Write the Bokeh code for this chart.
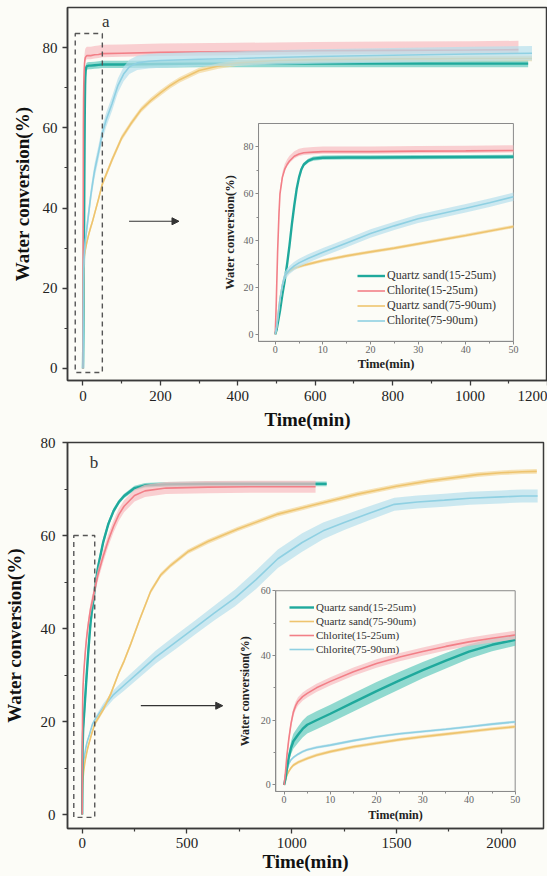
import math
from bokeh.plotting import figure
from bokeh.models import Range1d, LinearAxis, FixedTicker, Legend, LegendItem, Arrow, NormalHead, Label
from bokeh.layouts import column
from bokeh.embed import file_html
from bokeh.resources import INLINE

# ------------------------------------------------------------------ data
# panel a
a_qs15_t = [0, 0.3, 1, 1.5, 2, 2.5, 3, 3.5, 4, 4.5, 5, 5.5, 6, 7, 8, 10, 15, 20, 30, 40, 50,
            100, 200, 300, 400, 500, 600, 700, 800, 900, 1000, 1100, 1150]
a_qs15_v = [0, 2, 10, 17, 23, 30, 38, 47, 55, 62, 67, 70.5, 72.5, 74.2, 75, 75.4, 75.5, 75.5, 75.6, 75.7, 75.8,
            75.8, 75.9, 76, 76, 76, 76, 76, 76, 76, 76, 76, 76]
a_qs15_err = (0.9, 0.9)

a_chl15_t = [0, 0.2, 0.5, 0.8, 1, 1.5, 2, 2.5, 3, 4, 5, 6, 8, 10, 20, 30, 40, 50,
             100, 200, 400, 600, 800, 1000, 1125]
a_chl15_v = [0, 12, 35, 52, 60, 67, 70.5, 72.5, 74, 76, 77, 77.5, 77.8, 78, 78, 78.2, 78.3, 78.5,
             78.6, 78.8, 79, 79.2, 79.3, 79.4, 79.5]
a_chl15_err = (0.9, 2.2)

a_qs75_t = [0, 0.3, 0.7, 1, 1.5, 2, 3, 4, 6, 8, 10, 15, 20, 25, 30, 40, 50,
            60, 75, 100, 125, 150, 175, 200, 225, 250, 300, 350, 400, 500, 600, 700, 800, 900, 1000, 1100, 1160]
a_qs75_v = [0, 3, 10, 15, 21, 25, 27, 28.3, 29.5, 30.5, 31.5, 33.5, 35.2, 36.8, 38.6, 42.2, 46,
            48.4, 52, 57.5, 61.2, 64.5, 66.8, 68.7, 70.5, 72, 74.3, 75.4, 76.2, 76.8, 77, 77.1, 77.2, 77.2, 77.3, 77.3, 77.3]
a_qs75_err = (0.7, 0.7)

a_chl75_t = [0, 0.3, 0.7, 1, 1.5, 2, 3, 4, 5, 7, 10, 15, 20, 25, 30, 35, 40, 45, 50,
             60, 75, 90, 105, 120, 140, 170, 200, 300, 400, 600, 800, 1000, 1160]
a_chl75_v = [0, 3, 10, 15, 21, 25, 27.5, 29.2, 30.5, 32.5, 35, 39, 43, 46.3, 49.3, 51.6, 53.8, 56.2, 58.7,
             62, 66, 70.5, 73.4, 75.2, 76.2, 76.6, 76.8, 77.1, 77.3, 77.8, 78.1, 78.4, 78.6]
a_chl75_err = (1.8, 1.8)

# panel b
b_qs15_t = [0, 0.3, 0.6, 1, 1.5, 2, 3, 4, 5, 7, 10, 15, 20, 25, 30, 35, 40, 45, 50,
            60, 75, 100, 125, 150, 175, 200, 250, 300, 400, 600, 800, 1000, 1167]
b_qs15_v = [0, 2, 5, 8.5, 11.5, 13.5, 15.5, 17.3, 18.6, 20, 22, 25.5, 29, 32.3, 35.5, 38.4, 41.2, 43.3, 44.8,
            48.5, 53, 58.5, 62.5, 65.3, 67.2, 68.5, 70.2, 70.8, 71, 71.1, 71.1, 71.1, 71.1]
b_qs15_err = [0, 0.5, 1, 1.5, 2, 2.3, 2.5, 2.6, 2.7, 2.8, 2.8, 2.8, 2.8, 2.7, 2.5, 2.4, 2.2, 2, 1.8,
              1.5, 1.2, 0.9, 0.7, 0.6, 0.5, 0.5, 0.5, 0.5, 0.5, 0.5, 0.5, 0.5, 0.5]

b_chl15_t = [0, 0.3, 0.6, 1, 1.5, 2, 2.5, 3, 4, 5, 7, 10, 15, 20, 25, 30, 35, 40, 45, 50,
             60, 75, 100, 125, 150, 175, 200, 250, 300, 400, 600, 800, 1000, 1114]
b_chl15_v = [0, 4, 9, 14, 19, 22.5, 24.5, 25.8, 27.3, 28.3, 30, 32, 35, 37.5, 39.5, 41.2, 42.8, 44.2, 45.3, 46.3,
             48.5, 51.5, 55.5, 59, 62, 64.5, 66.3, 68.6, 69.6, 70.2, 70.4, 70.5, 70.5, 70.5]
b_chl15_err = 1.3

b_qs75_t = [0, 0.3, 0.6, 1, 1.5, 2, 3, 4, 5, 7, 10, 15, 20, 25, 30, 35, 40, 45, 50,
            60, 100, 137, 175, 200, 232, 275, 327, 375, 423, 504, 600, 743, 934, 1100, 1315,
            1500, 1649, 1887, 2000, 2100, 2170]
b_qs75_v = [0, 1.5, 3, 4.2, 5.3, 6.1, 7, 7.6, 8.2, 9.2, 10.3, 11.8, 12.9, 14, 14.9, 15.7, 16.5, 17.3, 18,
            19.5, 22.5, 26, 30.5, 33, 36.7, 42, 48, 51.5, 53.6, 56.5, 58.7, 61.4, 64.6, 66.5, 68.9,
            70.6, 71.7, 73.1, 73.5, 73.7, 73.8]
b_qs75_err = 0.5

b_chl75_t = [0, 0.3, 0.6, 1, 1.5, 2, 3, 4, 5, 7, 10, 15, 20, 25, 30, 35, 40, 45, 50,
             60, 100, 150, 200, 275, 350, 450, 539, 630, 730, 830, 934, 1050, 1150, 1251, 1370,
             1490, 1600, 1729, 1850, 2000, 2100, 2174]
b_chl75_v = [0, 2, 4.5, 6.5, 7.8, 8.5, 9.5, 10.3, 10.9, 11.6, 12.3, 13.7, 14.9, 15.8, 16.5, 17.2, 18, 18.8, 19.5,
             20.3, 23, 25.8, 27.8, 30.8, 33.8, 37.2, 40.2, 43.3, 46.6, 50.5, 55, 58.5, 61, 62.8, 64.8,
             66.7, 67.2, 67.6, 68, 68.3, 68.5, 68.5]
b_chl75_err = [0, 0.3, 0.4, 0.4, 0.4, 0.4, 0.4, 0.4, 0.4, 0.4, 0.4, 0.4, 0.4, 0.4, 0.4, 0.4, 0.4, 0.4, 0.4,
               0.5, 0.8, 1.0, 1.2, 1.3, 1.4, 1.5, 1.5, 1.6, 1.8, 2.0, 2.0, 2.0, 1.8, 1.6, 1.5,
               1.4, 1.4, 1.4, 1.4, 1.4, 1.4, 1.4]

labels = {"qs15": "Quartz sand(15-25um)", "chl15": "Chlorite(15-25um)",
          "qs75": "Quartz sand(75-90um)", "chl75": "Chlorite(75-90um)"}

# ticks
a_xticks = [0, 200, 400, 600, 800, 1000, 1200]
a_xminor = [100, 300, 500, 700, 900, 1100]
a_yticks = [0, 20, 40, 60, 80]
a_yminor = [10, 30, 50, 70]
b_xticks = [0, 500, 1000, 1500, 2000]
b_xminor = [250, 750, 1250, 1750]
b_yticks = [0, 20, 40, 60, 80]
b_yminor = [10, 30, 50, 70]
in_xticks = [0, 10, 20, 30, 40, 50]
in_xminor = [5, 15, 25, 35, 45]
ina_yticks = [0, 20, 40, 60, 80]
ina_yminor = [10, 30, 50, 70]
inb_yticks = [0, 20, 40, 60]
inb_yminor = [10, 30, 50]

# zoomed window marks (dashed box) and arrows, label positions
a_box = [-20, 50, -1, 83.5]
b_box = [-40, 60, -0.6, 60]
a_arrow = [119, 248, 36.7]
b_arrow = [280, 671, 23.4]
a_tag = [59, 86.5]
b_tag = [57, 75.7]

# ------------------------------------------------------------------ style
FONT = "Liberation Serif"
BG = "#fcfcf7"
AXC = "#3a3a3a"
COL = {"qs15": ("#1fa99c", "#63cabe"), "chl15": ("#f27f87", "#f8bcc0"),
       "qs75": ("#eec46e", "#f3d79a"), "chl75": ("#8fd0e2", "#b6e0ec")}
LW = {"qs15": 2.4, "chl15": 1.6, "qs75": 1.6, "chl75": 1.6}


def draw_series(p, key, t, v, err, tmax=None, xr=None, yr=None):
    if isinstance(err, tuple):
        lo = [err[0]] * len(t)
        hi = [err[1]] * len(t)
    elif isinstance(err, list):
        lo = err
        hi = err
    else:
        lo = [err] * len(t)
        hi = [err] * len(t)
    idx = [i for i in range(len(t)) if tmax is None or t[i] <= tmax]
    tt = [t[i] for i in idx]
    vv = [v[i] for i in idx]
    y1 = [max(v[i] - lo[i], 0) for i in idx]
    y2 = [v[i] + hi[i] for i in idx]
    kw = {} if xr is None else dict(x_range_name=xr, y_range_name=yr)
    line_c, band_c = COL[key]
    p.varea(x=tt, y1=y1, y2=y2, fill_color=band_c, fill_alpha=0.7, **kw)
    return p.line(tt, vv, line_color=line_c, line_width=LW[key], **kw)


def make_main(xr, yr, fw, fh, mbl, mbr, mbt, mbb, xt, xm, yt, ym, xstand, ystand, xlab_st, ylab_st):
    p = figure(x_range=Range1d(*xr), y_range=Range1d(*yr), frame_width=fw, frame_height=fh,
               min_border_left=mbl, min_border_right=mbr, min_border_top=mbt, min_border_bottom=mbb,
               output_backend="svg", toolbar_location=None,
               background_fill_color=BG, border_fill_color=BG)
    p.grid.visible = False
    p.outline_line_color = AXC
    p.outline_line_width = 1.5
    p.outline_line_alpha = 1
    p.xaxis.ticker = FixedTicker(ticks=xt, minor_ticks=xm)
    p.yaxis.ticker = FixedTicker(ticks=yt, minor_ticks=ym)
    for ax in list(p.xaxis) + list(p.yaxis):
        ax.axis_line_color = AXC
        ax.axis_line_width = 1.5
        ax.major_tick_line_color = AXC
        ax.minor_tick_line_color = AXC
        ax.major_tick_line_width = 1.3
        ax.minor_tick_line_width = 1.2
        ax.major_tick_out = 5
        ax.major_tick_in = 0
        ax.minor_tick_out = 3
        ax.minor_tick_in = 0
        ax.major_label_text_font = FONT
        ax.major_label_text_font_size = "15px"
        ax.major_label_text_color = "#222222"
        ax.axis_label_text_font = FONT
        ax.axis_label_text_font_style = "bold"
        ax.axis_label_text_color = "#111111"
        ax.axis_label_text_font_size = "19px"
    p.xaxis.major_label_standoff = xstand
    p.yaxis.major_label_standoff = ystand
    p.xaxis.axis_label_standoff = xlab_st
    p.yaxis.axis_label_standoff = ylab_st
    p.xaxis.axis_label = "Time(min)"
    p.yaxis.axis_label = "Water conversion(%)"
    return p


def add_inset(p, name, fx, fy, xr, yr, xt, xm, yt, ym, lab_size, xlab_off, ylab_off):
    fx0, fx1 = fx
    ft, fb = fy
    upx = (xr[1] - xr[0]) / (fx1 - fx0)
    xs = xr[0] - fx0 * upx
    b0, b1 = 1 - fb, 1 - ft
    upy = (yr[1] - yr[0]) / (b1 - b0)
    ys = yr[0] - b0 * upy
    nx, ny = name + "_x", name + "_y"
    p.extra_x_ranges = {**p.extra_x_ranges, nx: Range1d(xs, xs + upx)}
    p.extra_y_ranges = {**p.extra_y_ranges, ny: Range1d(ys, ys + upy)}
    p.quad(left=[xr[0]], right=[xr[1]], bottom=[yr[0]], top=[yr[1]], x_range_name=nx, y_range_name=ny,
           fill_color=BG, line_color="#8a8a8a", line_width=1)
    xa = LinearAxis(x_range_name=nx, y_range_name=ny, fixed_location=yr[0], bounds=tuple(xr),
                    ticker=FixedTicker(ticks=xt, minor_ticks=xm))
    ya = LinearAxis(x_range_name=nx, y_range_name=ny, fixed_location=xr[0], bounds=tuple(yr),
                    ticker=FixedTicker(ticks=yt, minor_ticks=ym))
    for ax in (xa, ya):
        ax.axis_line_color = "#8a8a8a"
        ax.major_tick_line_color = "#8a8a8a"
        ax.minor_tick_line_color = "#8a8a8a"
        ax.major_tick_out = 3
        ax.major_tick_in = 0
        ax.minor_tick_out = 2
        ax.minor_tick_in = 0
        ax.major_label_text_font = FONT
        ax.major_label_text_font_size = "10px"
        ax.major_label_text_color = "#666666"
        ax.major_label_standoff = 2
    p.add_layout(xa, "below")
    p.add_layout(ya, "left")
    p.add_layout(Label(x=(xr[0] + xr[1]) / 2, y=yr[0], x_range_name=nx, y_range_name=ny,
                       y_offset=-xlab_off, text="Time(min)", text_align="center", text_baseline="middle",
                       text_font=FONT, text_font_style="bold", text_font_size=lab_size, text_color="#222222"))
    p.add_layout(Label(x=xr[0], y=(yr[0] + yr[1]) / 2, x_range_name=nx, y_range_name=ny,
                       x_offset=-ylab_off, angle=math.pi / 2, text="Water conversion(%)",
                       text_align="center", text_baseline="middle",
                       text_font=FONT, text_font_style="bold", text_font_size=lab_size, text_color="#222222"))
    return nx, ny


def add_legend(p, items, x, y, glyph_w, row_h, size):
    leg = Legend(items=[LegendItem(label=labels[k], renderers=[r]) for k, r in items],
                 location=(x, y), padding=0, margin=0, spacing=0,
                 glyph_width=glyph_w, glyph_height=row_h, label_height=row_h, label_standoff=2,
                 label_text_font=FONT, label_text_font_size=size, label_text_color="#333333",
                 border_line_alpha=0, background_fill_alpha=0)
    p.add_layout(leg)


def decorate(p, box, arrow, tag, tag_text):
    p.quad(left=[box[0]], right=[box[1]], bottom=[box[2]], top=[box[3]], fill_alpha=0,
           line_color="#555555", line_width=1.4, line_dash="5 4")
    p.add_layout(Arrow(end=NormalHead(size=7, fill_color="#333333", line_color="#333333", line_width=1),
                       x_start=arrow[0], y_start=arrow[2], x_end=arrow[1], y_end=arrow[2],
                       line_color="#333333", line_width=1.2))
    p.add_layout(Label(x=tag[0], y=tag[1], text=tag_text, text_align="center", text_baseline="middle",
                       text_font=FONT, text_font_size="17px", text_color="#333333"))


# ------------------------------------------------------------------ panel a
pa = make_main((-40, 1200), (-3, 90), 480, 373, 54, 8, 7, 54,
               a_xticks, a_xminor, a_yticks, a_yminor, 5, 5, 5, 7)
A = [("qs15", a_qs15_t, a_qs15_v, a_qs15_err), ("qs75", a_qs75_t, a_qs75_v, a_qs75_err),
     ("chl15", a_chl15_t, a_chl15_v, a_chl15_err), ("chl75", a_chl75_t, a_chl75_v, a_chl75_err)]
for k, t, v, e in A:
    draw_series(pa, k, t, v, e)
decorate(pa, a_box, a_arrow, a_tag, "a")
nx, ny = add_inset(pa, "ia", (0.398, 0.929), (0.311, 0.895), (-3.5, 50), (-3, 90),
                   in_xticks, in_xminor, ina_yticks, ina_yminor, "12.5px", 23, 29)
ra = {}
for k, t, v, e in A:
    ra[k] = draw_series(pa, k, t, v, e, tmax=50, xr=nx, yr=ny)
add_legend(pa, [(k, ra[k]) for k in ["qs15", "chl15", "qs75", "chl75"]],
           290, 52, 28, 15, "12px")

# ------------------------------------------------------------------ panel b
pb = make_main((-70, 2202), (-3, 80), 476, 386, 62, 4, 8, 48,
               b_xticks, b_xminor, b_yticks, b_yminor, 4, 7, 0, 13)
B = [("chl75", b_chl75_t, b_chl75_v, b_chl75_err), ("qs75", b_qs75_t, b_qs75_v, b_qs75_err),
     ("qs15", b_qs15_t, b_qs15_v, b_qs15_err), ("chl15", b_chl15_t, b_chl15_v, b_chl15_err)]
for k, t, v, e in B:
    draw_series(pb, k, t, v, e)
decorate(pb, b_box, b_arrow, b_tag, "b")
nx, ny = add_inset(pb, "ib", (0.4376, 0.9405), (0.384, 0.904), (-1.8, 50), (-2, 60),
                   in_xticks, in_xminor, inb_yticks, inb_yminor, "12px", 24, 31)
rb = {}
for k, t, v, e in B:
    rb[k] = draw_series(pb, k, t, v, e, tmax=50, xr=nx, yr=ny)
add_legend(pb, [(k, rb[k]) for k in ["qs15", "qs75", "chl15", "chl75"]],
           222, 172, 25, 14, "11px")

layout = column(pa, pb, spacing=0, styles={"background-color": BG})
open("out.html", "w").write(file_html(layout, INLINE))
